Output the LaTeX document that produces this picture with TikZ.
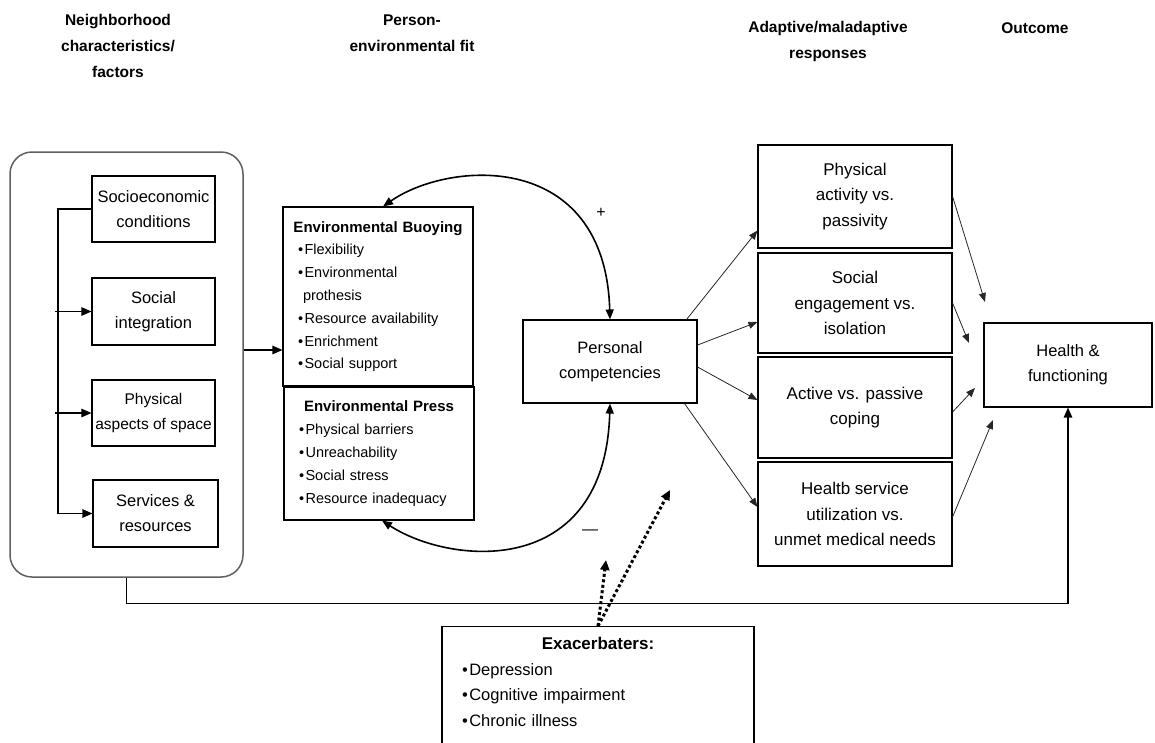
\documentclass[tikz,border=0pt]{standalone}
\usepackage{fontspec}
\setmainfont{Liberation Sans}
\usetikzlibrary{arrows.meta,positioning}
\definecolor{framegray}{RGB}{95,95,95}
\newcommand{\itemdot}[1][8pt]{\hspace*{#1}\textbullet\hspace{1.5pt}}

\begin{document}
\begin{tikzpicture}[
  x=1pt, y=-1pt,
  hdr/.style={align=center, font=\fontsize{15.5}{26}\selectfont\bfseries},
  factor/.style={rectangle, draw, line width=1.1pt, align=center,
                 minimum width=123pt, minimum height=66pt, inner xsep=0pt,
                 inner ysep=2pt, font=\fontsize{16.5}{25}\selectfont},
  envbox/.style={rectangle, draw, line width=1.1pt, align=left,
                 text width=176pt, inner xsep=7pt, inner ysep=2pt,
                 font=\fontsize{14.5}{22.8}\selectfont},
  resp/.style={rectangle, draw, line width=1.1pt, align=center,
               minimum width=194pt, inner sep=2pt,
               font=\fontsize{17}{25.5}\selectfont},
  arr/.style={-{Triangle[length=10pt,width=8.5pt]}, line width=1.2pt},
  thinarr/.style={-{Triangle[length=9pt,width=7pt]}, line width=0.8pt, black!85},
  fitloop/.style={{Triangle[length=10pt,width=8pt]}-{Triangle[length=10pt,width=8pt]},
                  line width=1.6pt},
  dotarr/.style={-{Triangle[length=10pt,width=9pt]}, line width=3pt,
                 dash pattern=on 3pt off 2.5pt}
]
\useasboundingbox (0,0) rectangle (1155,742);

% column headers
\node[hdr] (hdrNbhd) at (118,46) {Neighborhood\\characteristics/\\factors};
\node[hdr] (hdrFit) at (412,33.5) {Person-\\environmental fit};
\node[hdr] (hdrResp) at (828,41) {Adaptive/maladaptive\\responses};
\node[hdr] (hdrOut) at (1035,28) {Outcome};

% neighborhood factors
\node[draw=framegray, line width=1.5pt, rounded corners=22pt,
      minimum width=233pt, minimum height=425pt] (nbhd) at (126.5,364.5) {};
\node[factor] (socio) at (153.5,209) {Socioeconomic\\conditions};
\node[factor, minimum height=67pt] (socint) at (153.5,311.5) {Social\\integration};
\node[factor, font=\fontsize{15.5}{25}\selectfont] (phys) at (153.5,413)
  {Physical\\aspects of space};
\node[factor, minimum width=125pt, minimum height=67pt] (serv) at (155.5,513.5)
  {Services \&\\resources};

\coordinate (railtop) at (58,209);
\coordinate (railbot) at (58,513.5);
\draw[line width=1.2pt] (socio.west) -- (railtop) -- (railbot);
\draw[arr] (railbot) -- (serv.west);
\draw[arr] ([xshift=-3pt]socint.west -| railtop) -- (socint.west);
\draw[arr] ([xshift=-3pt]phys.west -| railtop) -- (phys.west);

% person-environment fit
\node[envbox, minimum height=179pt] (buoy) at (378,296.5)
  {\makebox[\linewidth][c]{\fontsize{15}{22.8}\selectfont\bfseries Environmental Buoying}\\
   \itemdot Flexibility\\
   \itemdot Environmental\\
   \hspace*{13pt}prothesis\\
   \itemdot Resource availability\\
   \itemdot Enrichment\\
   \itemdot Social support};
\node[envbox, minimum height=133pt] (press) at (379,453.5)
  {\makebox[\linewidth][c]{\fontsize{15}{22.8}\selectfont\bfseries Environmental Press}\\
   \itemdot Physical barriers\\
   \itemdot Unreachability\\
   \itemdot Social stress\\
   \itemdot Resource inadequacy};

\coordinate (feed) at (0,350);
\draw[arr] (nbhd.east |- feed) -- (buoy.west |- feed);

\node[factor, minimum width=174pt, minimum height=83pt] (pers) at (610,361.5)
  {Personal\\competencies};

\draw[fitloop] ([xshift=5pt]buoy.north) .. controls (450,160) and (605,150) .. (pers.north);
\draw[fitloop] ([xshift=3pt]press.south) .. controls (450,565) and (605,580) .. (pers.south);
\node[font=\fontsize{16}{18}\selectfont] (plus) at (601,213) {+};
\node[font=\fontsize{16}{18}\selectfont] (minus) at (590,532) {\textemdash};

% responses
\node[resp, minimum height=103pt] (resp1) at (855,196.5)
  {Physical\\activity vs.\\passivity};
\node[resp, minimum height=100pt] (resp2) at (855,303)
  {Social\\engagement vs.\\isolation};
\node[resp, minimum height=101pt] (resp3) at (855,407.5)
  {Active vs. passive\\coping};
\node[resp, minimum height=104pt] (resp4) at (855,514)
  {Healtb service\\utilization vs.\\unmet medical needs};

\draw[thinarr] ([xshift=-11pt]pers.north east) -- ([yshift=18pt]resp1.south west);
\draw[thinarr] ([yshift=16.5pt]pers.east) -- ([yshift=-19pt]resp2.west);
\draw[thinarr] ([yshift=-5.5pt]pers.east) -- ([yshift=7.5pt]resp3.west);
\draw[thinarr] ([xshift=-13pt]pers.south east) -- ([yshift=7pt]resp4.west);

% outcome
\node[factor, minimum width=168pt, minimum height=84pt] (health) at (1068,365)
  {Health \&\\functioning};

\coordinate (hin1) at (985,302);
\coordinate (hin2) at (969,343);
\coordinate (hin3) at (975,388);
\coordinate (hin4) at (993,420);
\draw[thinarr] (resp1.east) -- (hin1);
\draw[thinarr] (resp2.east) -- (hin2);
\draw[thinarr] ([yshift=-4.5pt]resp3.east) -- (hin3);
\draw[thinarr] ([yshift=-3pt]resp4.east) -- (hin4);

\draw[arr] (nbhd.south) -- ++(0,26) -| (health.south);

% exacerbaters (box runs on below the page edge)
\node[rectangle, draw, line width=1.1pt, align=left, anchor=north,
      text width=292pt, inner xsep=10pt, inner ysep=11pt,
      font=\fontsize{16.5}{25.5}\selectfont] (exac) at (598,626)
  {\makebox[\linewidth][c]{\fontsize{17}{25.5}\selectfont\bfseries Exacerbaters:}\\
   \itemdot[10pt]Depression\\
   \itemdot[10pt]Cognitive impairment\\
   \itemdot[10pt]Chronic illness\\[20pt]
   \mbox{}};

\coordinate (dotA) at (606,560);
\coordinate (dotB) at (670,490);
\draw[dotarr] (exac.north) -- (dotA);
\draw[dotarr] (exac.north) -- (dotB);
\end{tikzpicture}
\end{document}
